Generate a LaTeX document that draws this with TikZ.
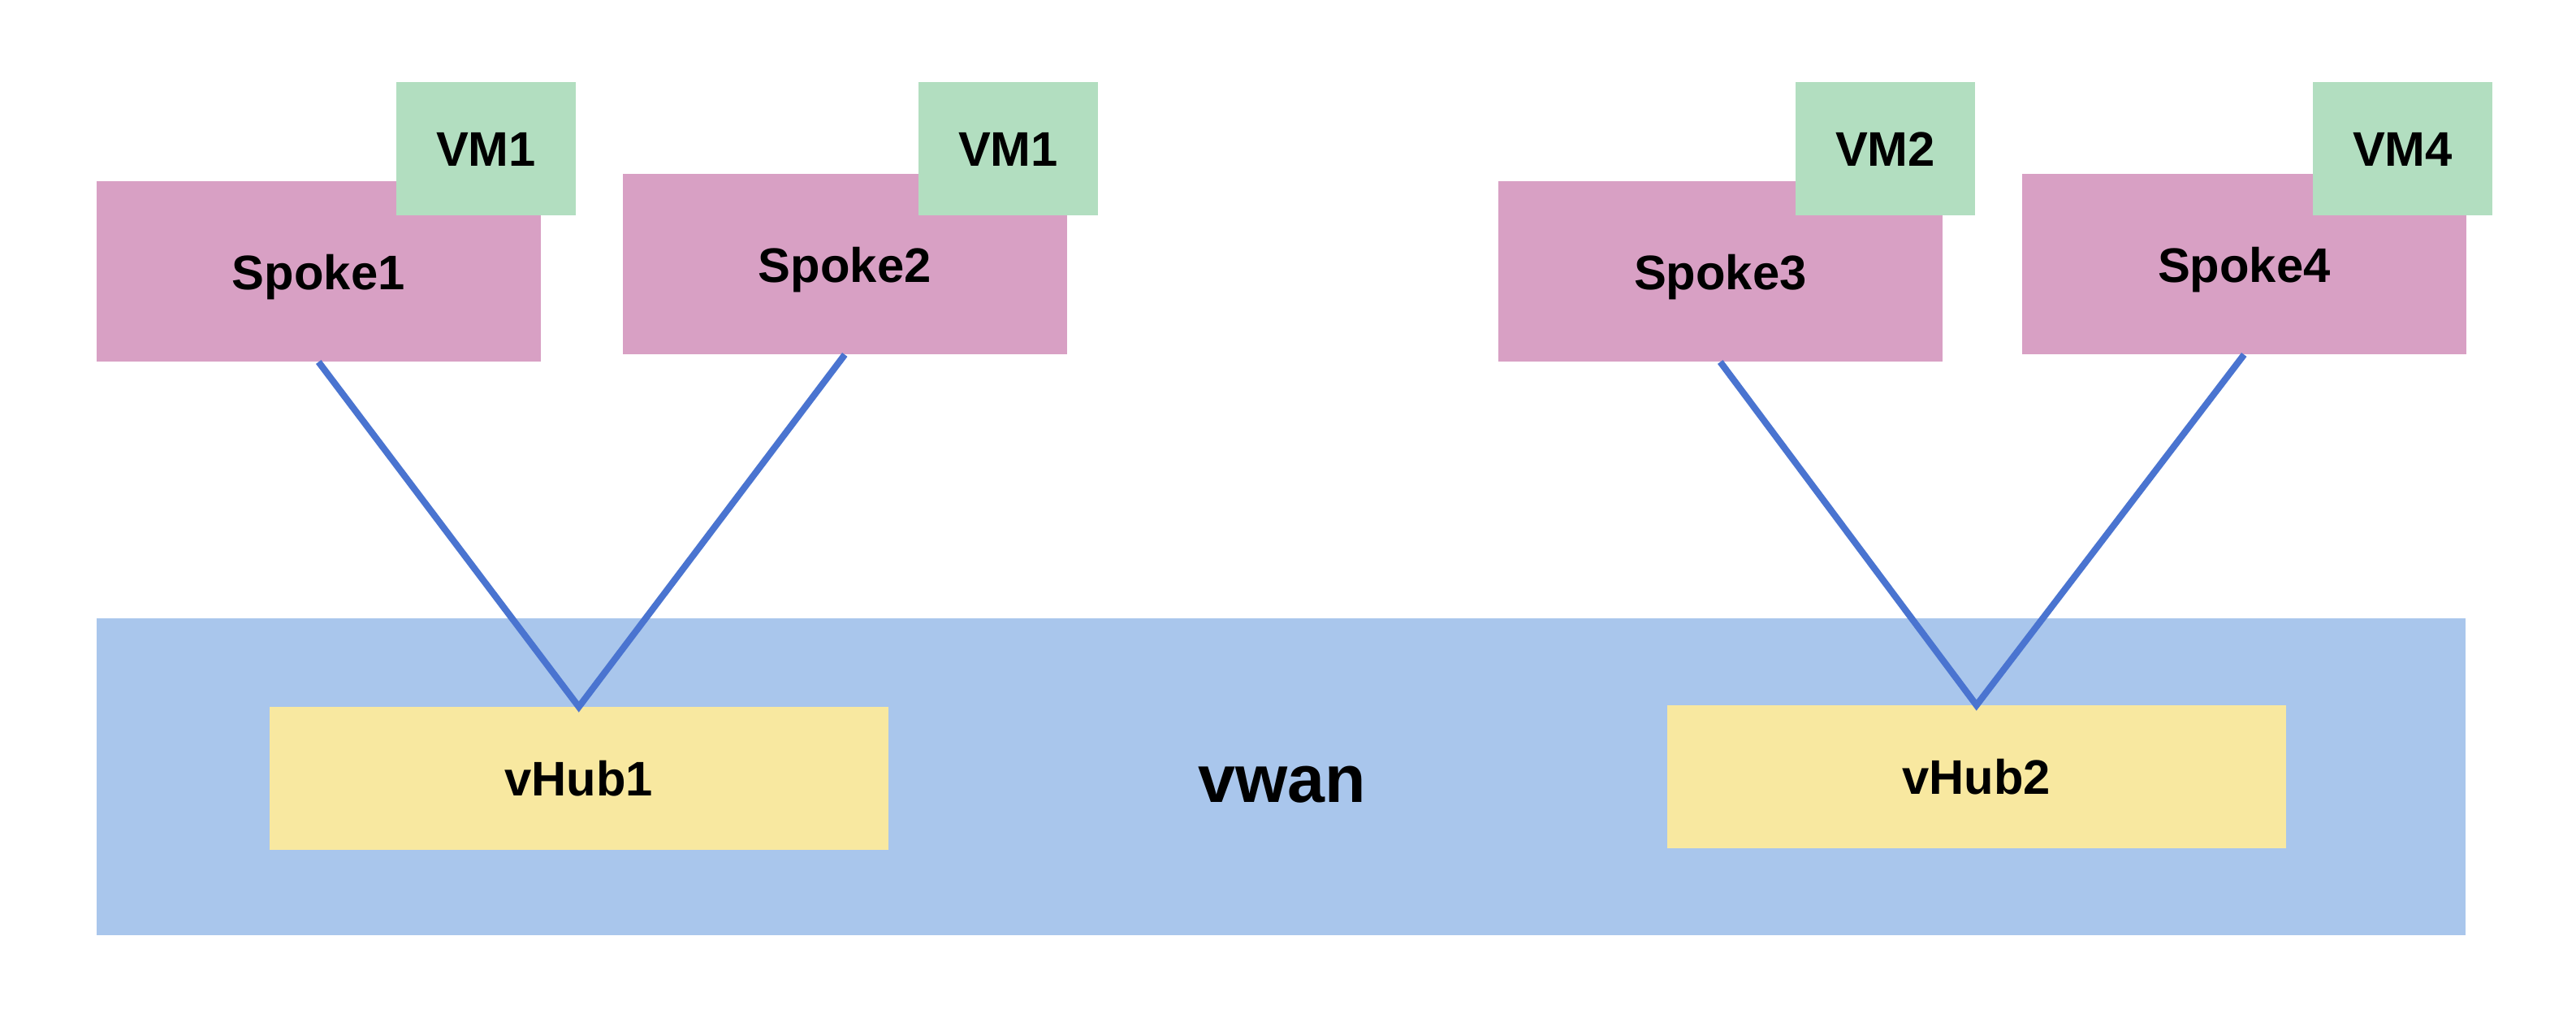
\documentclass[tikz,border=0pt]{standalone}
\usepackage{fontspec}
\setmainfont{Liberation Sans}
\definecolor{spokefill}{HTML}{D8A0C4}
\definecolor{vmfill}{HTML}{B2DEC0}
\definecolor{wanfill}{HTML}{A9C6EC}
\definecolor{hubfill}{HTML}{F8E8A0}
\definecolor{linkcol}{HTML}{4A74D0}
\tikzset{
  boxbase/.style={anchor=north west, inner sep=0pt, outer sep=0pt, draw=none,
    font=\fontsize{17}{20}\selectfont\bfseries, text height=0.44cm, text depth=0pt},
  spokebox/.style={boxbase, fill=spokefill, minimum width=5.465cm, minimum height=2.225cm},
  vmbox/.style={boxbase, fill=vmfill, minimum width=2.21cm, minimum height=1.64cm},
  hubbox/.style={boxbase, fill=hubfill, minimum width=7.615cm, minimum height=1.76cm},
  wanbox/.style={anchor=north west, inner sep=0pt, outer sep=0pt, fill=wanfill,
    minimum width=29.17cm, minimum height=3.90cm},
  link/.style={draw=linkcol, line width=2.3pt}
}
\begin{document}
\begin{tikzpicture}
\useasboundingbox (0,0) rectangle (31.72,12.48);
\fill[white] (0,0) rectangle (31.72,12.48);
% vwan
\node[wanbox] (vwan) at (1.19,4.87) {};
\node[font=\fontsize{23.5}{28}\selectfont\bfseries, inner sep=0pt, text height=0.43cm, text depth=0pt] (vwanlabel) at (15.79,2.82) {vwan};
\node[hubbox] (hub1) at (3.32,3.78) {vHub1};
\node[hubbox] (hub2) at (20.53,3.80) {vHub2};
% spokes
\node[spokebox] (s1) at (1.19,10.25) {Spoke1};
\node[spokebox] (s2) at (7.67,10.34) {Spoke2};
\node[spokebox] (s3) at (18.45,10.25) {Spoke3};
\node[spokebox] (s4) at (24.90,10.34) {Spoke4};
% VMs
\node[vmbox] (vm1a) at (4.88,11.47) {VM1};
\node[vmbox] (vm1b) at (11.31,11.47) {VM1};
\node[vmbox] (vm2) at (22.11,11.47) {VM2};
\node[vmbox] (vm4) at (28.48,11.47) {VM4};
% links
\draw[link] (s1.south) -- (hub1.north) -- (s2.south);
\draw[link] (s3.south) -- (hub2.north) -- (s4.south);
\end{tikzpicture}
\end{document}
